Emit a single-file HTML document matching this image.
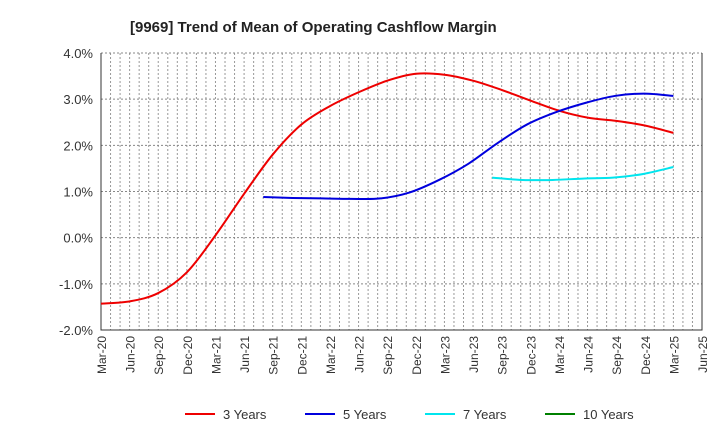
<!DOCTYPE html>
<html><head><meta charset="utf-8"><style>
body{margin:0;background:#fff;font-family:"Liberation Sans",sans-serif}
</style></head><body>
<svg id="c" width="720" height="440" xmlns="http://www.w3.org/2000/svg"></svg>
<script>
const xLabels=["Mar-20","Jun-20","Sep-20","Dec-20","Mar-21","Jun-21","Sep-21","Dec-21","Mar-22","Jun-22","Sep-22","Dec-22","Mar-23","Jun-23","Sep-23","Dec-23","Mar-24","Jun-24","Sep-24","Dec-24","Mar-25","Jun-25"];
const yTicks=[-2,-1,0,1,2,3,4];
const s3Start=0;
const s3=[-1.43,-1.38,-1.2,-0.75,0.05,0.95,1.8,2.45,2.85,3.15,3.4,3.55,3.53,3.4,3.2,2.97,2.75,2.6,2.53,2.43,2.27];
const s5Start=5.67;
const s5=[0.88,0.86,0.85,0.84,0.85,0.98,1.25,1.6,2.05,2.45,2.72,2.92,3.07,3.12,3.07];
const s7Start=13.67;
const s7=[1.3,1.25,1.25,1.28,1.3,1.38,1.53];
const s10Start=0;
const s10=[];
const seriesEnd=20;
const L=101,R=702,T=53,B=330;
const X=i=>L+(R-L)*i/21, Y=v=>B-(v+2)/6*(B-T);
const svg=document.getElementById('c'),NS="http://www.w3.org/2000/svg";
function mk(t,a,p){const e=document.createElementNS(NS,t);for(const k in a)e.setAttribute(k,a[k]);(p||svg).appendChild(e);return e;}
const title=mk('text',{x:130,y:32,'font-size':15,'font-weight':'bold',fill:'#222'});title.textContent="[9969]  Trend of Mean of Operating Cashflow Margin";

for(let m=1;m<63;m++){const x=L+(R-L)*m/63;const g=mk('line',{x1:x,x2:x,y1:T,y2:B,stroke:'#999','stroke-dasharray':'2,2','stroke-width':1});
}
yTicks.forEach(v=>{const y=Y(v);const g=mk('line',{x1:L,x2:R,y1:y,y2:y,stroke:'#888','stroke-dasharray':'2,2'});

const t=mk('text',{x:L-8,y:y+5,'text-anchor':'end','font-size':13,fill:'#333'});t.textContent=v.toFixed(1)+'%';
});
const ax=mk('path',{d:`M${L},${T}V${B}H${R}V${T}`,fill:'none',stroke:'#333'});

xLabels.forEach((l,i)=>{const x=X(i);const t=mk('text',{transform:`translate(${x+5},${B+6}) rotate(-90)`,'text-anchor':'end','font-size':12,fill:'#333'});t.textContent=l;
});
function line(arr,st,col,name){if(!arr.length)return;const step=arr.length>1?(seriesEnd-st)/(arr.length-1):1;
const p=arr.map((v,i)=>[X(st+i*step),Y(v)]);let d=`M${p[0][0]},${p[0][1]}`;
for(let i=0;i<p.length-1;i++){const a=p[Math.max(0,i-1)],b=p[i],c=p[i+1],e=p[Math.min(p.length-1,i+2)];
d+=`C${b[0]+(c[0]-a[0])/6},${b[1]+(c[1]-a[1])/6} ${c[0]-(e[0]-b[0])/6},${c[1]-(e[1]-b[1])/6} ${c[0]},${c[1]}`;}
const e=mk('path',{d,fill:'none',stroke:col,'stroke-width':2});}
line(s3,s3Start,'#e00','line-3-years');line(s5,s5Start,'#0000dd','line-5-years');line(s7,s7Start,'#00e5ee','line-7-years');line(s10,s10Start,'#008000','line-10-years');
[["3 Years","#e00",185],["5 Years","#0000dd",305],["7 Years","#00e5ee",425],["10 Years","#008000",545]].forEach(([n,c,x])=>{
const g=mk('g',{});
mk('line',{x1:x,x2:x+30,y1:414,y2:414,stroke:c,'stroke-width':2},g);
const t=mk('text',{x:x+38,y:419,'font-size':13,fill:'#333'},g);t.textContent=n;});
</script>
</body></html>
